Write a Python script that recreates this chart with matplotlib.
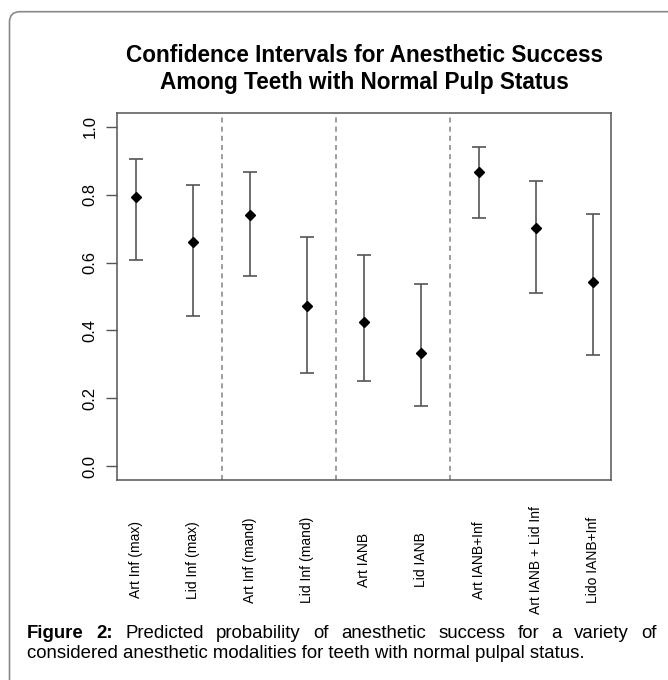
import numpy as np
import matplotlib
matplotlib.use("Agg")
import matplotlib.pyplot as plt
from matplotlib.path import Path
from matplotlib.patches import PathPatch
from matplotlib.transforms import blended_transform_factory

plt.rcParams['font.family'] = ['Liberation Sans', 'DejaVu Sans']

# Estimated values
labels = ["Art Inf (max)", "Lid Inf (max)", "Art Inf (mand)", "Lid Inf (mand)",
          "Art IANB", "Lid IANB", "Art IANB+Inf", "Art IANB + Lid Inf", "Lido IANB+Inf"]
est = [0.793, 0.660, 0.740, 0.471, 0.425, 0.333, 0.867, 0.701, 0.543]
lower = [0.606, 0.444, 0.559, 0.276, 0.250, 0.177, 0.732, 0.510, 0.328]
upper = [0.905, 0.827, 0.865, 0.676, 0.623, 0.538, 0.940, 0.841, 0.743]
dividers = [2.5, 4.5, 6.5]

W, H = 668, 680
fig = plt.figure(figsize=(W / 100, H / 100), dpi=100)

# outer frame: top and left edges with rounded corner
fr = Path([(9.5 / W, 0), (9.5 / W, 1 - 22 / H), (9.5 / W, 1 - 11.7 / H),
           (20 / W, 1 - 11.7 / H), (1, 1 - 11.7 / H)],
          [Path.MOVETO, Path.LINETO, Path.CURVE3, Path.CURVE3, Path.LINETO])
fig.patches.append(PathPatch(fr, fill=False, edgecolor='#8a8a8a', lw=1.2,
                             transform=fig.transFigure))

ax = fig.add_axes([117 / W, 1 - 480 / H, (611 - 117) / W, (480 - 113) / H])
x = np.arange(1, len(labels) + 1)
est_a = np.array(est)
yerr = [est_a - np.array(lower), np.array(upper) - est_a]
ax.errorbar(x, est, yerr=yerr, fmt='none', ecolor='#555555', elinewidth=1.2,
            capsize=4.8, capthick=1.2)
ax.plot(x, est, 'D', color='black', markersize=5.5)
for d in dividers:
    ax.axvline(d, color='#8c8c8c', lw=1.2, ls=(0, (3, 2.5)))

ax.set_xlim(0.667, 9.32)
ax.set_ylim(-0.04, 1.04)
ax.set_yticks(np.arange(0, 1.01, 0.2))
ax.set_yticklabels([f"{v:.1f}" for v in np.arange(0, 1.01, 0.2)], rotation=90,
                   va='center', fontsize=12)
ax.tick_params(axis='y', length=8, width=1, color='#555555', pad=6)
ax.set_xticks(x)
ax.set_xticklabels([])
ax.tick_params(axis='x', length=0)
lab_tr = blended_transform_factory(ax.transData, fig.transFigure)
for xi, lab in zip(x, labels):
    ax.text(xi, 1 - 560 / H, lab, transform=lab_tr,
            rotation=90, ha='center', va='center', fontsize=10)
for s in ax.spines.values():
    s.set_color('#555555')
    s.set_linewidth(1.1)

fig.text(364 / W, 1 - 55 / H, "Confidence Intervals for Anesthetic Success",
         ha='center', va='center', fontsize=16.3, fontweight='bold')
fig.text(364 / W, 1 - 82 / H, "Among Teeth with Normal Pulp Status",
         ha='center', va='center', fontsize=16.3, fontweight='bold')

# caption, first line justified
renderer = fig.canvas.get_renderer()
cap_fs = 13.4
words = ["Figure", "2:", "Predicted", "probability", "of", "anesthetic", "success",
         "for", "a", "variety", "of"]
bold = [True, True] + [False] * 9
x0, x1 = 27, 657
txts = []
for w, b in zip(words, bold):
    t = fig.text(0, 1 - 633 / H, w, fontsize=cap_fs, va='center', ha='left',
                 fontweight='bold' if b else 'normal')
    txts.append(t)
widths = [t.get_window_extent(renderer).width for t in txts]
gap = (x1 - x0 - sum(widths)) / (len(words) - 1)
pos = x0
for t, wd in zip(txts, widths):
    t.set_x(pos / W)
    pos += wd + gap
fig.text(x0 / W, 1 - 653 / H,
         "considered anesthetic modalities for teeth with normal pulpal status.",
         fontsize=cap_fs, va='center', ha='left')

fig.savefig("out.png", dpi=100)
